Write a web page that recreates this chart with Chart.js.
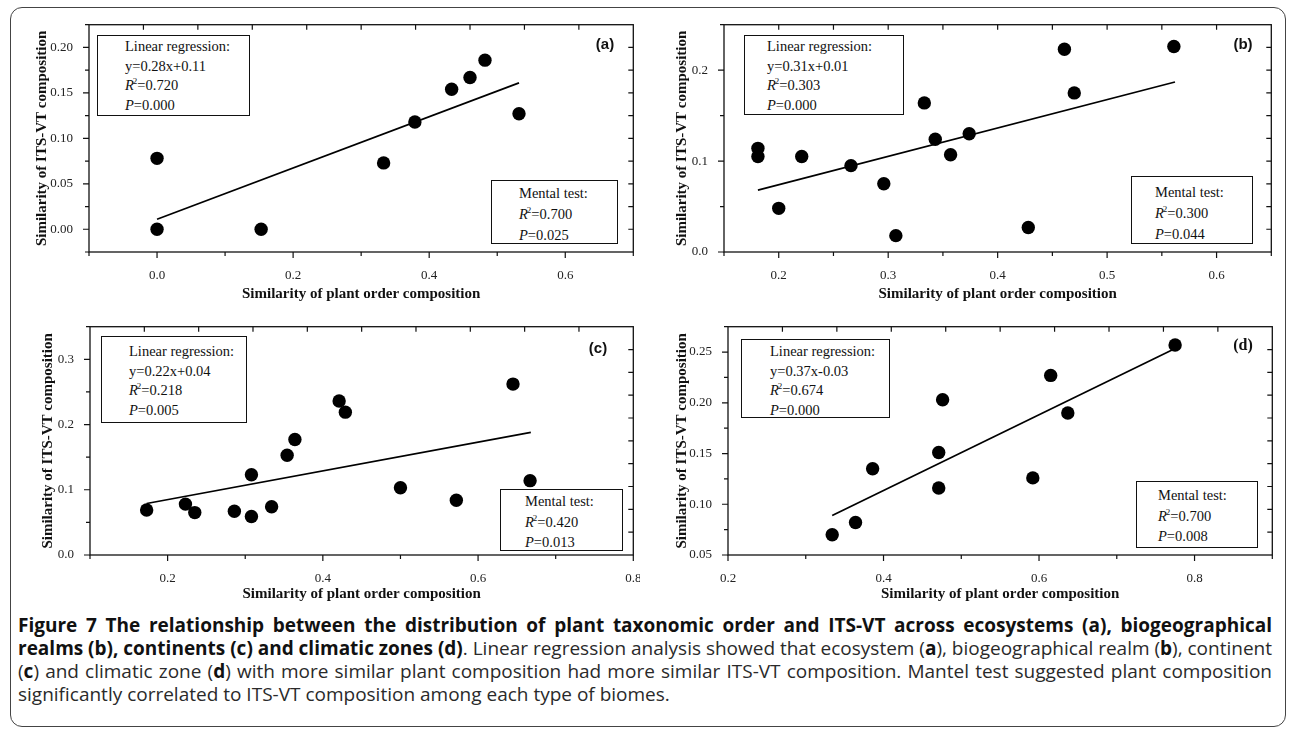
<!DOCTYPE html>
<html><head><meta charset="utf-8">
<script src="https://cdn.jsdelivr.net/npm/chart.js@4.4.1/dist/chart.umd.min.js"></script>
<style>
html,body{margin:0;padding:0;background:#fff;width:1290px;height:733px;overflow:hidden;position:relative;}
.frame{position:absolute;left:10px;top:7px;width:1276px;height:720px;border:1.5px solid #444;border-radius:12px;box-sizing:border-box;}
canvas{position:absolute;}
.box{position:absolute;border:1.3px solid #111;box-sizing:border-box;font-family:"Liberation Serif","Times New Roman",serif;font-size:14.5px;color:#111;white-space:nowrap;background:#fff;}
.box div{height:var(--lh);line-height:var(--lh);}
.box i{font-style:italic}
.box .sp{font-size:9px;position:relative;top:-6px;line-height:0;margin-left:-1px}
.plab{position:absolute;font-family:"Liberation Sans",Arial,sans-serif;font-weight:bold;font-size:15px;color:#111;transform:translate(-50%,-50%);white-space:nowrap}
.plab.serif{font-family:"Liberation Serif",serif;font-size:16px}
.cap{position:absolute;left:18px;top:614px;width:1254px;font-family:"Open Sans","Noto Sans",sans-serif;font-size:19px;line-height:23px;color:#2a2a2a}
.cap div{white-space:nowrap;}
.cap .ln{display:inline-block;white-space:nowrap}
.cap b{color:#111}
</style>
</head><body>
<div class="frame"></div>
<div id="wrap"></div>
<div class="cap">
<div><span class="ln"><b>Figure 7 The relationship between the distribution of plant taxonomic order and ITS-VT across ecosystems (a), biogeographical</b></span></div>
<div><span class="ln"><b>realms (b), continents (c) and climatic zones (d)</b>. Linear regression analysis showed that ecosystem (<b>a</b>), biogeographical realm (<b>b</b>), continent</span></div>
<div><span class="ln">(<b>c</b>) and climatic zone (<b>d</b>) with more similar plant composition had more similar ITS-VT composition. Mantel test suggested plant composition</span></div>
<div class="last"><span>significantly correlated to ITS-VT composition among each type of biomes.</span></div>
</div>
<script>
// ---------------- DATA ----------------
const xTitle = 'Similarity of plant order composition';
const yTitle = 'Similarity of ITS-VT composition';

// (a) ecosystems
const aX = [0.000, 0.000, 0.153, 0.333, 0.379, 0.433, 0.460, 0.482, 0.532];
const aY = [0.078, 0.000, 0.000, 0.073, 0.118, 0.154, 0.167, 0.186, 0.127];
const aFitX = [0.000, 0.532];
const aFitY = [0.011, 0.161];
const aXRange = [-0.1, 0.7], aXStep = 0.1, aXLabels = ['0.0','0.2','0.4','0.6'];
const aYRange = [-0.025, 0.225], aYStep = 0.025, aYLabels = ['0.00','0.05','0.10','0.15','0.20'];
const aReg = ['Linear regression:', 'y=0.28x+0.11', '0.720', '0.000'];
const aMantel = ['Mental test:', '0.700', '0.025'];

// (b) biogeographical realms
const bX = [0.181, 0.181, 0.200, 0.221, 0.266, 0.296, 0.307, 0.333, 0.343, 0.357, 0.374, 0.428, 0.461, 0.470, 0.561];
const bY = [0.114, 0.105, 0.048, 0.105, 0.095, 0.075, 0.018, 0.164, 0.124, 0.107, 0.130, 0.027, 0.223, 0.175, 0.226];
const bFitX = [0.181, 0.562];
const bFitY = [0.068, 0.187];
const bXRange = [0.15, 0.65], bXStep = 0.05, bXLabels = ['0.2','0.3','0.4','0.5','0.6'];
const bYRange = [0.0, 0.25], bYStep = 0.05, bYLabels = ['0.0','0.1','0.2'];
const bReg = ['Linear regression:', 'y=0.31x+0.01', '0.303', '0.000'];
const bMantel = ['Mental test:', '0.300', '0.044'];

// (c) continents
const cX = [0.173, 0.223, 0.235, 0.286, 0.308, 0.308, 0.334, 0.354, 0.364, 0.421, 0.429, 0.500, 0.572, 0.645, 0.667];
const cY = [0.069, 0.078, 0.065, 0.067, 0.059, 0.123, 0.074, 0.153, 0.177, 0.236, 0.219, 0.103, 0.084, 0.262, 0.114];
const cFitX = [0.173, 0.668];
const cFitY = [0.079, 0.188];
const cXRange = [0.1, 0.8], cXStep = 0.1, cXLabels = ['0.2','0.4','0.6','0.8'];
const cYRange = [0.0, 0.35], cYStep = 0.05, cYLabels = ['0.0','0.1','0.2','0.3'];
const cReg = ['Linear regression:', 'y=0.22x+0.04', '0.218', '0.005'];
const cMantel = ['Mental test:', '0.420', '0.013'];

// (d) climatic zones
const dX = [0.334, 0.364, 0.386, 0.471, 0.471, 0.476, 0.592, 0.615, 0.637, 0.775];
const dY = [0.070, 0.082, 0.135, 0.151, 0.116, 0.203, 0.126, 0.227, 0.190, 0.257];
const dFitX = [0.334, 0.771];
const dFitY = [0.089, 0.252];
const dXRange = [0.2, 0.9], dXStep = 0.1, dXLabels = ['0.2','0.4','0.6','0.8'];
const dYRange = [0.05, 0.275], dYStep = 0.025, dYLabels = ['0.05','0.10','0.15','0.20','0.25'];
const dReg = ['Linear regression:', 'y=0.37x-0.03', '0.674', '0.000'];
const dMantel = ['Mental test:', '0.700', '0.008'];

// ---------------- LAYOUT ----------------
const panels = [
  {id:'a', X:aX, Y:aY, fx:aFitX, fy:aFitY, xr:aXRange, xs:aXStep, xl:aXLabels, yr:aYRange, ys:aYStep, yl:aYLabels, reg:aReg, man:aMantel,
   plot:[89,24,634,252], yt:42, xt:294,
   regBox:[97,35,153,81,27,1,19.7], manBox:[491,180,127,64,27,2,21], lab:[605,43,false]},
  {id:'b', X:bX, Y:bY, fx:bFitX, fy:bFitY, xr:bXRange, xs:bXStep, xl:bXLabels, yr:bYRange, ys:bYStep, yl:bYLabels, reg:bReg, man:bMantel,
   plot:[724,24,1272,252], yt:682, xt:294,
   regBox:[744,35,160,80,22,1,19.7], manBox:[1131,176,122,68,23,5,21], lab:[1243,43,false]},
  {id:'c', X:cX, Y:cY, fx:cFitX, fy:cFitY, xr:cXRange, xs:cXStep, xl:cXLabels, yr:cYRange, ys:cYStep, yl:cYLabels, reg:cReg, man:cMantel,
   plot:[90,326,634,555], yt:48, xt:594,
   regBox:[101,336,146,87,27,5,19.7], manBox:[500,489,123,62,24,1,20.5], lab:[598,347,false]},
  {id:'d', X:dX, Y:dY, fx:dFitX, fy:dFitY, xr:dXRange, xs:dXStep, xl:dXLabels, yr:dYRange, ys:dYStep, yl:dYLabels, reg:dReg, man:dMantel,
   plot:[728,326,1273,555], yt:682, xt:594,
   regBox:[741,339,149,79,28,2,19.5], manBox:[1136,481,122,67,21,3,20.5], lab:[1243,345,true]}
];

const SERIF = '"Liberation Serif","Times New Roman",serif';
const TITLE_SIZE = 15;
const wrap = document.getElementById('wrap');

function isLabel(v, labels){
  const dec = labels[0].split('.')[1].length;
  const s = (Math.abs(v) < 1e-9 ? 0 : v).toFixed(dec);
  if (Math.abs(parseFloat(s) - v) > 1e-6) return null;
  return labels.includes(s) ? s : null;
}

const framePlugin = {
  id:'frameTicks',
  afterDraw(chart){
    const {ctx, chartArea:{left:L, top:T, right:R, bottom:B}, scales:{x, y}} = chart;
    const cfg = chart.options.plugins.frameTicks;
    ctx.save();
    ctx.strokeStyle = '#111';
    ctx.lineWidth = 1.3;
    ctx.strokeRect(L, T, R-L, B-T);
    ctx.lineWidth = 1.2;
    ctx.beginPath();
    x.ticks.forEach(t => {
      const px = x.getPixelForValue(t.value);
      const len = isLabel(t.value, cfg.xl) ? 6 : 4;
      ctx.moveTo(px, B); ctx.lineTo(px, B+len);
    });
    y.ticks.forEach(t => {
      const py = y.getPixelForValue(t.value);
      const len = isLabel(t.value, cfg.yl) ? 6 : 4;
      ctx.moveTo(L, py); ctx.lineTo(L-len, py);
    });
    for (let i=1;i<10;i++){
      const px = L + i*(R-L)/10;
      ctx.moveTo(px, T); ctx.lineTo(px, T+5);
      const py = T + i*(B-T)/10;
      ctx.moveTo(R, py); ctx.lineTo(R-5, py);
    }
    ctx.stroke();
    ctx.restore();
  }
};

function zeroPad(s){ s.paddingTop = 0; s.paddingBottom = 0; s.paddingLeft = 0; s.paddingRight = 0; }

panels.forEach(p => {
  const [L,T,R,B] = p.plot;
  const titleLH = TITLE_SIZE*1.2;
  const cl = Math.round(p.yt - titleLH/2);
  const ct = T - 6;
  const cr = R + 6;
  const cb = Math.round(p.xt + titleLH/2);
  const cv = document.createElement('canvas');
  cv.width = cr - cl; cv.height = cb - ct;
  cv.style.left = cl+'px'; cv.style.top = ct+'px';
  cv.style.width = (cr-cl)+'px'; cv.style.height = (cb-ct)+'px';
  wrap.appendChild(cv);
  const yW = L - cl;
  const xH = cb - B;
  new Chart(cv.getContext('2d'), {
    type:'scatter',
    data:{datasets:[
      {type:'line', data:p.fx.map((v,i)=>({x:v, y:p.fy[i]})), borderColor:'#000', borderWidth:1.7, pointRadius:0, fill:false, tension:0},
      {type:'scatter', data:p.X.map((v,i)=>({x:v, y:p.Y[i]})), backgroundColor:'#000', borderWidth:0, pointRadius:6.7, pointHoverRadius:6.7, clip:false}
    ]},
    options:{
      responsive:false, animation:false, devicePixelRatio:1,
      layout:{padding:{left:0, top:6, right:6, bottom:0}},
      plugins:{legend:{display:false}, tooltip:{enabled:false}, frameTicks:{xl:p.xl, yl:p.yl}},
      scales:{
        x:{type:'linear', position:'bottom', min:p.xr[0], max:p.xr[1],
           grid:{display:false}, border:{display:false},
           ticks:{stepSize:p.xs, autoSkip:false, maxRotation:0, padding:8, color:'#222',
                  font:{family:SERIF, size:13}, callback:v => isLabel(v, p.xl) || ''},
           title:{display:true, text:xTitle, padding:0, color:'#111', font:{family:SERIF, size:TITLE_SIZE, weight:'bold'}},
           afterFit: s => { s.height = xH; zeroPad(s); }},
        y:{type:'linear', position:'left', min:p.yr[0], max:p.yr[1],
           grid:{display:false}, border:{display:false},
           ticks:{stepSize:p.ys, autoSkip:false, padding:8, color:'#222',
                  font:{family:SERIF, size:13}, callback:v => isLabel(v, p.yl) || ''},
           title:{display:true, text:yTitle, padding:0, color:'#111', font:{family:SERIF, size:TITLE_SIZE, weight:'bold'}},
           afterFit: s => { s.width = yW; zeroPad(s); }}
      }
    },
    plugins:[framePlugin]
  });

  function mkBox(b, lines){
    const d = document.createElement('div');
    d.className = 'box';
    d.style.left=b[0]+'px'; d.style.top=b[1]+'px'; d.style.width=b[2]+'px'; d.style.height=b[3]+'px';
    d.style.paddingLeft=b[4]+'px'; d.style.paddingTop=b[5]+'px';
    d.style.setProperty('--lh', b[6]+'px');
    d.innerHTML = lines.join('');
    document.body.appendChild(d);
  }
  mkBox(p.regBox, ['<div>'+p.reg[0]+'</div>','<div>'+p.reg[1]+'</div>',
                   '<div><i>R</i><span class="sp">2</span>='+p.reg[2]+'</div>','<div><i>P</i>='+p.reg[3]+'</div>']);
  mkBox(p.manBox, ['<div>'+p.man[0]+'</div>','<div><i>R</i><span class="sp">2</span>='+p.man[1]+'</div>','<div><i>P</i>='+p.man[2]+'</div>']);
  const lb = document.createElement('div');
  lb.className = 'plab' + (p.lab[2] ? ' serif' : '');
  lb.style.left = p.lab[0]+'px'; lb.style.top = p.lab[1]+'px';
  lb.textContent = '('+p.id+')';
  document.body.appendChild(lb);
});

// justify caption lines by adjusting word spacing
const capW = 1254;
document.querySelectorAll('.cap .ln').forEach(ln => {
  const w = ln.getBoundingClientRect().width;
  const n = (ln.textContent.match(/ /g) || []).length;
  if (n > 0) ln.style.wordSpacing = ((capW - w) / n) + 'px';
});
</script>
</body></html>
